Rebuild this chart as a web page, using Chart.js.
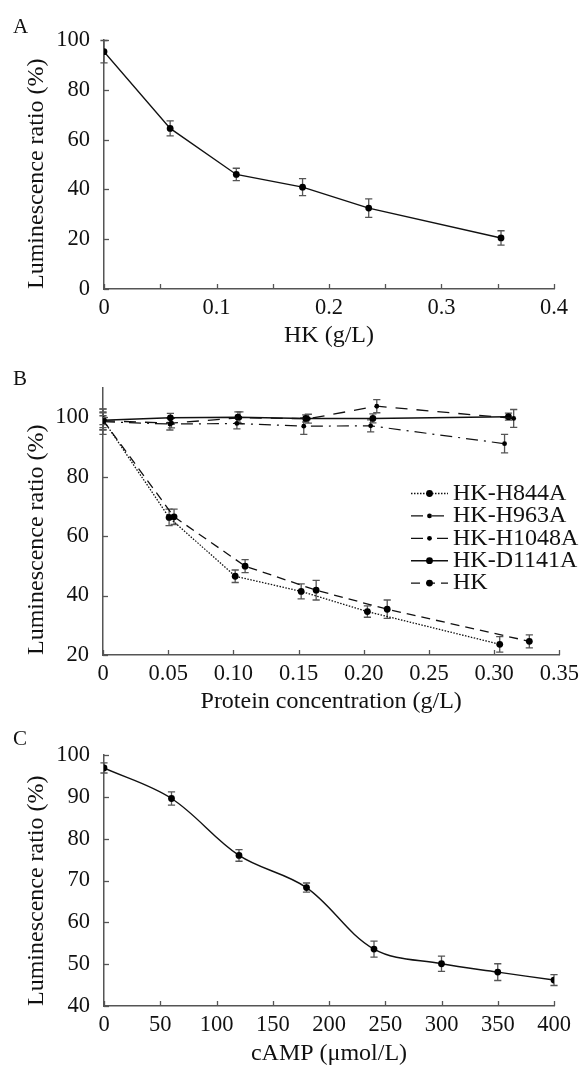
<!DOCTYPE html>
<html><head><meta charset="utf-8">
<script src="https://cdn.jsdelivr.net/npm/chart.js@4.4.1/dist/chart.umd.min.js"></script>
<style>
html,body{margin:0;padding:0;background:#fff;}
body{width:585px;height:1066px;position:relative;overflow:hidden;}
canvas{position:absolute;left:0;}
.lbl{position:absolute;left:13px;font-family:"Liberation Serif","Times New Roman",serif;font-size:21px;line-height:21px;color:#111;}
</style></head><body>
<canvas id="cA" width="585" height="360" style="top:0"></canvas>
<canvas id="cB" width="585" height="360" style="top:360px"></canvas>
<canvas id="cC" width="585" height="346" style="top:720px"></canvas>
<div class="lbl" style="top:16px">A</div>
<div class="lbl" style="top:368px">B</div>
<div class="lbl" style="top:728px">C</div>
<script>
// ---------- Panel A ----------
const hkConcA = [0, 0.0588, 0.1176, 0.1765, 0.2353, 0.3529];
const hkRatioA = [95.3, 64.5, 46.0, 40.9, 32.5, 20.5];
const hkErrA = [4.5, 3.0, 2.5, 3.4, 3.7, 2.9];
const xTickLabelsA = ['0', '0.1', '0.2', '0.3', '0.4'];
const yTickLabelsA = ['0', '20', '40', '60', '80', '100'];

// ---------- Panel B ----------
const seriesNamesB = ['HK-H844A', 'HK-H963A', 'HK-H1048A', 'HK-D1141A', 'HK'];
const h844Conc = [0, 0.0507, 0.1014, 0.152, 0.2028, 0.3043];
const h844Ratio = [99.2, 66.3, 46.5, 41.4, 34.6, 23.6];
const h844Err = [3.5, 2.8, 2.1, 2.5, 1.9, 2.6];
const h963Conc = [0, 0.0525, 0.105, 0.1575, 0.21, 0.315];
const h963Ratio = [98.8, 98.0, 99.8, 99.5, 103.7, 99.6];
const h963Err = [3.0, 1.6, 2.0, 1.5, 2.2, 3.0];
const h1048Conc = [0, 0.0513, 0.1027, 0.154, 0.2053, 0.308];
const h1048Ratio = [98.5, 97.7, 97.9, 97.0, 97.1, 91.1];
const h1048Err = [4.3, 2.0, 1.8, 2.8, 2.0, 3.1];
const d1141Conc = [0, 0.0517, 0.1035, 0.1555, 0.207, 0.311];
const d1141Ratio = [99.0, 99.8, 100.0, 99.6, 99.6, 100.2];
const d1141Err = [1.5, 1.5, 1.8, 1.2, 1.5, 1.2];
const hkConcB = [0, 0.0545, 0.109, 0.1635, 0.218, 0.327];
const hkRatioB = [99.0, 66.5, 49.9, 41.8, 35.4, 24.6];
const hkErrB = [2.5, 2.6, 2.2, 3.3, 3.1, 2.2];
const xTickLabelsB = ['0', '0.05', '0.10', '0.15', '0.20', '0.25', '0.30', '0.35'];
const yTickLabelsB = ['20', '40', '60', '80', '100'];

// ---------- Panel C ----------
const campConc = [0, 60, 120, 180, 240, 300, 350, 400];
const campRatio = [96.9, 89.6, 76.0, 68.3, 53.6, 50.1, 48.1, 46.2];
const campErr = [1.2, 1.6, 1.4, 1.1, 1.9, 1.8, 2.0, 1.3];
const xTickLabelsC = ['0', '50', '100', '150', '200', '250', '300', '350', '400'];
const yTickLabelsC = ['40', '50', '60', '70', '80', '90', '100'];

const FONT = '"Liberation Serif", "Times New Roman", serif';
const INK = '#111';
const AXIS = '#555';

function pts(xs, ys) { return xs.map((x, i) => ({x: x, y: ys[i]})); }
function labelFrom(list) {
  return function (v) {
    const s = list.find(l => Math.abs(parseFloat(l) - v) < 1e-7);
    return s === undefined ? '' : s;
  };
}

const errorBars = {
  id: 'errorBars',
  beforeDatasetsDraw(chart) {
    const {ctx, scales: {x, y}} = chart;
    ctx.save();
    ctx.strokeStyle = '#555';
    ctx.lineWidth = 1.3;
    ctx.setLineDash([]);
    chart.data.datasets.forEach(ds => {
      if (!ds.errors) return;
      ds.data.forEach((p, j) => {
        const e = ds.errors[j];
        const px = x.getPixelForValue(p.x);
        const y1 = y.getPixelForValue(p.y + e);
        const y2 = y.getPixelForValue(p.y - e);
        const c = 3.6;
        ctx.beginPath();
        ctx.moveTo(px, y1); ctx.lineTo(px, y2);
        ctx.moveTo(px - c, y1); ctx.lineTo(px + c, y1);
        ctx.moveTo(px - c, y2); ctx.lineTo(px + c, y2);
        ctx.stroke();
      });
    });
    ctx.restore();
  }
};

const inwardTicks = {
  id: 'inwardTicks',
  afterDraw(chart) {
    const {ctx, scales: {x, y}} = chart;
    ctx.save();
    ctx.strokeStyle = AXIS;
    ctx.lineWidth = 1.3;
    ctx.setLineDash([]);
    const len = 5;
    x.ticks.forEach(t => {
      const px = Math.round(x.getPixelForValue(t.value)) + 0.5;
      ctx.beginPath(); ctx.moveTo(px, y.bottom); ctx.lineTo(px, y.bottom - len); ctx.stroke();
    });
    y.ticks.forEach(t => {
      const py = Math.round(y.getPixelForValue(t.value)) + 0.5;
      ctx.beginPath(); ctx.moveTo(x.left, py); ctx.lineTo(x.left + len, py); ctx.stroke();
    });
    ctx.restore();
  }
};

const lineLegend = {
  id: 'lineLegend',
  afterDraw(chart, args, o) {
    const ctx = chart.ctx;
    ctx.save();
    chart.data.datasets.forEach((ds, i) => {
      const yy = o.y0 + i * o.dy;
      ctx.strokeStyle = ds.borderColor;
      ctx.lineWidth = ds.borderWidth;
      ctx.setLineDash(ds.borderDash || []);
      ctx.beginPath(); ctx.moveTo(o.x0, yy); ctx.lineTo(o.x1, yy); ctx.stroke();
      ctx.setLineDash([]);
      ctx.fillStyle = '#000';
      ctx.beginPath(); ctx.arc((o.x0 + o.x1) / 2, yy, ds.pointRadius, 0, Math.PI * 2); ctx.fill();
      ctx.fillStyle = INK;
      ctx.font = '24px ' + FONT;
      ctx.textBaseline = 'middle';
      ctx.textAlign = 'left';
      ctx.fillText(ds.label, o.tx, yy);
    });
    ctx.restore();
  }
};

function makeChart(id, datasets, c, extraPlugins, pluginOpts) {
  return new Chart(document.getElementById(id), {
    type: 'line',
    data: {datasets: datasets},
    options: {
      responsive: false,
      animation: false,
      devicePixelRatio: 1,
      layout: {padding: {top: c.padTop, right: c.padRight, bottom: 0, left: 0}},
      plugins: Object.assign({legend: {display: false}, tooltip: {enabled: false}}, pluginOpts || {}),
      scales: {
        x: {
          type: 'linear', min: c.xMin, max: c.xMax,
          afterFit: s => { s.height = c.xHeight; },
          grid: {display: true, drawOnChartArea: false, drawTicks: false},
          border: {display: true, color: AXIS, width: 1.5},
          ticks: {stepSize: c.xStep, autoSkip: false, maxRotation: 0, padding: 6, color: INK,
                  font: {family: FONT, size: 22.5}, callback: labelFrom(c.xLabels)},
          title: {display: true, text: c.xTitle, color: INK,
                  font: {family: FONT, size: 24, lineHeight: 1}, padding: {top: 0, bottom: c.xTitlePad}}
        },
        y: {
          min: c.yMin, max: c.yMax,
          afterFit: s => { s.width = c.yWidth; },
          grid: {display: true, drawOnChartArea: false, drawTicks: false},
          border: {display: true, color: AXIS, width: 1.5},
          ticks: {stepSize: c.yStep, includeBounds: false, padding: 14, color: INK,
                  font: {family: FONT, size: 22.5}, callback: labelFrom(c.yLabels)},
          title: {display: true, text: 'Luminescence ratio (%)', color: INK, align: 'start',
                  font: {family: FONT, size: 24, lineHeight: 1}, padding: {top: 25, bottom: 0}}
        }
      }
    },
    plugins: [errorBars, inwardTicks].concat(extraPlugins || [])
  });
}

function ds(label, xs, ys, errs, dash, r, w, tension) {
  return {
    label: label, data: pts(xs, ys), errors: errs,
    borderColor: INK, borderWidth: w, borderDash: dash,
    pointRadius: r, pointBackgroundColor: '#000', pointBorderWidth: 0, pointHoverRadius: r,
    tension: tension || 0, fill: false
  };
}

// Panel A
makeChart('cA', [ds('HK', hkConcA, hkRatioA, hkErrA, [], 3.4, 1.4)], {
  padTop: 40, padRight: 31, xHeight: 71, yWidth: 104,
  xMin: 0, xMax: 0.4, xStep: 0.05, xLabels: xTickLabelsA, xTitle: 'HK (g/L)', xTitlePad: 12,
  yMin: 0, yMax: 100, yStep: 20, yLabels: yTickLabelsA
});

// Panel B
makeChart('cB', [
  ds(seriesNamesB[0], h844Conc, h844Ratio, h844Err, [1.5, 1.5], 3.4, 1.3),
  ds(seriesNamesB[1], h963Conc, h963Ratio, h963Err, [12, 9], 2.4, 1.3),
  ds(seriesNamesB[2], h1048Conc, h1048Ratio, h1048Err, [12, 6, 2, 6], 2.4, 1.2),
  ds(seriesNamesB[3], d1141Conc, d1141Ratio, d1141Err, [], 3.4, 1.5),
  ds(seriesNamesB[4], hkConcB, hkRatioB, hkErrB, [9, 6], 3.4, 1.3)
], {
  padTop: 23, padRight: 21, xHeight: 65, yWidth: 103,
  xMin: 0, xMax: 0.35, xStep: 0.05, xLabels: xTickLabelsB, xTitle: 'Protein concentration (g/L)', xTitlePad: 6,
  yMin: 20, yMax: 110, yStep: 20, yLabels: yTickLabelsB
}, [lineLegend], {lineLegend: {x0: 411, x1: 448, tx: 453, y0: 133.5, dy: 22.4}});

// Panel C
makeChart('cC', [ds('cAMP', campConc, campRatio, campErr, [], 3.4, 1.4, 0.35)], {
  padTop: 35, padRight: 31, xHeight: 60, yWidth: 104,
  xMin: 0, xMax: 400, xStep: 50, xLabels: xTickLabelsC, xTitle: 'cAMP (\u03bcmol/L)', xTitlePad: 0,
  yMin: 40, yMax: 100, yStep: 10, yLabels: yTickLabelsC
});
</script>
</body></html>
